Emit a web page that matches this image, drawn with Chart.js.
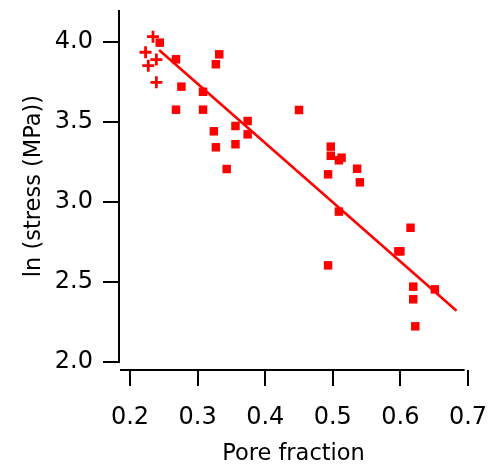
<!DOCTYPE html>
<html>
<head>
<meta charset="utf-8">
<script src="https://cdn.jsdelivr.net/npm/chart.js@4.4.1/dist/chart.umd.min.js"></script>
<style>
  html, body { margin: 0; padding: 0; background: #fff; }
  #wrap { width: 494px; height: 466px; }
</style>
</head>
<body>
<div id="wrap"><canvas id="chart" width="494" height="466"></canvas></div>
<script>
// values
const crossX = [0.234, 0.223, 0.239, 0.227, 0.239];
const crossY = [4.033, 3.936, 3.890, 3.852, 3.748];

const squareX = [0.244, 0.268, 0.332, 0.327, 0.276, 0.308, 0.268, 0.308, 0.450, 0.374,
                 0.356, 0.324, 0.374, 0.356, 0.327, 0.343, 0.497, 0.497, 0.509, 0.513,
                 0.536, 0.493, 0.540, 0.509, 0.615, 0.597, 0.600, 0.493, 0.619, 0.651,
                 0.619, 0.622];
const squareY = [3.996, 3.892, 3.923, 3.861, 3.721, 3.689, 3.577, 3.577, 3.575, 3.506,
                 3.475, 3.442, 3.423, 3.361, 3.342, 3.206, 3.346, 3.289, 3.261, 3.277,
                 3.208, 3.173, 3.123, 2.940, 2.839, 2.692, 2.692, 2.604, 2.471, 2.454,
                 2.392, 2.223];

const fitX = [0.243, 0.683];
const fitY = [3.95, 2.32];

const xTicks = [0.2, 0.3, 0.4, 0.5, 0.6, 0.7];
const yTicks = [2.0, 2.5, 3.0, 3.5, 4.0];

const toPoints = (xs, ys) => xs.map((x, i) => ({ x, y: ys[i] }));

Chart.defaults.font.family = '"DejaVu Sans", Verdana, sans-serif';
Chart.defaults.color = '#000';

// igor-style detached axes, x axis sits a bit below the plot
const axesPlugin = {
  id: 'axes',
  afterDraw(chart) {
    const ctx = chart.ctx;
    const xs = chart.scales.x, ys = chart.scales.y;
    const area = chart.chartArea;
    const axisY = area.bottom + 8;
    ctx.save();
    ctx.strokeStyle = '#000';
    ctx.lineWidth = 2;
    ctx.beginPath();
    ctx.moveTo(area.left, ys.getPixelForValue(ys.max));
    ctx.lineTo(area.left, ys.getPixelForValue(ys.min) + 1);
    yTicks.forEach(v => {
      const p = Math.round(ys.getPixelForValue(v));
      ctx.moveTo(area.left - 16, p);
      ctx.lineTo(area.left, p);
    });
    ctx.moveTo(area.left + 1, axisY);
    ctx.lineTo(xs.getPixelForValue(0.695), axisY);
    xTicks.forEach(v => {
      const p = Math.round(xs.getPixelForValue(v));
      ctx.moveTo(p, axisY);
      ctx.lineTo(p, axisY + 16);
    });
    ctx.stroke();
    ctx.restore();
  }
};

// reserve room for labels without the scale padding pushing the plot area
const hiddenGrid = (len) => ({
  display: true,
  drawOnChartArea: false,
  drawTicks: true,
  tickLength: len,
  color: 'rgba(0,0,0,0)',
});

new Chart(document.getElementById('chart'), {
  type: 'scatter',
  data: {
    datasets: [
      {
        label: 'fit',
        type: 'line',
        data: toPoints(fitX, fitY),
        borderColor: '#ff0000',
        borderWidth: 2.6,
        pointRadius: 0,
        fill: false,
      },
      {
        label: 'squares',
        data: toPoints(squareX, squareY),
        pointStyle: 'rect',
        pointRadius: 6,
        backgroundColor: '#ff0000',
        borderColor: '#ff0000',
        borderWidth: 0,
      },
      {
        label: 'crosses',
        data: toPoints(crossX, crossY),
        pointStyle: 'cross',
        pointRadius: 6,
        borderColor: '#ff0000',
        borderWidth: 2.8,
      },
    ],
  },
  options: {
    responsive: false,
    animation: false,
    layout: { padding: { top: 10, right: 26, bottom: 0, left: 0 } },
    plugins: { legend: { display: false }, tooltip: { enabled: false } },
    scales: {
      x: {
        type: 'linear',
        min: 0.1837,
        max: 0.7,
        grid: hiddenGrid(41),
        border: { display: false },
        afterBuildTicks: s => { s.ticks = xTicks.map(v => ({ value: v })); },
        afterFit: s => { s.height = 104; },
        ticks: {
          padding: 0,
          font: { size: 24 },
          callback: v => v.toFixed(1),
        },
        title: {
          display: true,
          text: 'Pore fraction',
          font: { size: 22.5 },
          padding: { top: 0, bottom: -2 },
        },
      },
      y: {
        min: 2.0,
        max: 4.2,
        grid: hiddenGrid(26),
        border: { display: false },
        afterBuildTicks: s => { s.ticks = yTicks.map(v => ({ value: v })); },
        afterFit: s => { s.width = 119; },
        ticks: {
          padding: 0,
          font: { size: 24, lineHeight: 0.8 },
          callback: v => v.toFixed(1),
        },
        title: {
          display: true,
          text: 'ln (stress (MPa))',
          font: { size: 22.5 },
          padding: { top: 21, bottom: 0 },
        },
      },
    },
  },
  plugins: [axesPlugin],
});
</script>
</body>
</html>
